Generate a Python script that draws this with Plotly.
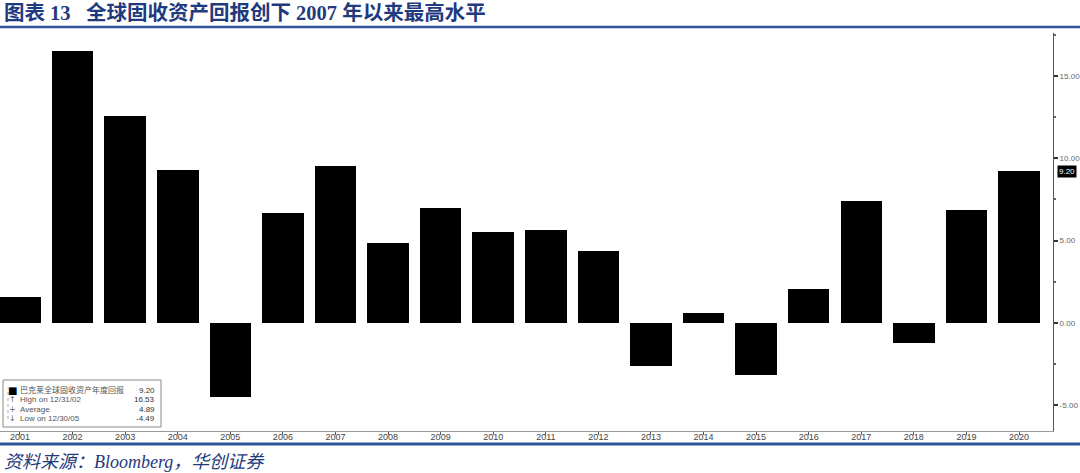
import plotly.graph_objects as go

W, H = 1080, 473

years = list(range(2001, 2021))
returns = [1.58, 16.53, 12.57, 9.29, -4.49, 6.68, 9.53, 4.86, 6.98, 5.53,
           5.65, 4.37, -2.61, 0.61, -3.16, 2.06, 7.41, -1.21, 6.86, 9.20]
y_ticks = [-5, 0, 5, 10, 15]
y_tick_text = ["-5.00", "0.00", "5.00", "10.00", "15.00"]

title_text = "图表 13\u00a0\u00a0\u00a0全球固收资产回报创下 2007 年以来最高水平"
source_text = "资料来源：Bloomberg，华创证券"
legend_rows = [
    ("巴克莱全球固收资产年度回报", "9.20"),
    ("High on 12/31/02", "16.53"),
    ("Average", "4.89"),
    ("Low on 12/30/05", "-4.49"),
]
legend_marks = ["■", "↑", "+", "↓"]
last_value = "9.20"


def px_x(p):
    return p / W


def px_y(p):
    return 1 - p / H


blue = "#1f3a7d"
line_blue = "#2e5597"

fig = go.Figure()
fig.add_trace(go.Bar(
    x=years, y=returns, width=0.79,
    marker=dict(color="#000000", line=dict(width=0)),
    showlegend=False, hoverinfo="x+y",
))

fig.update_layout(
    width=W, height=H,
    margin=dict(l=0, r=0, t=0, b=0, autoexpand=False),
    paper_bgcolor="white", plot_bgcolor="white",
    bargap=0,
    xaxis=dict(
        domain=[0, px_x(1053)],
        range=[2000.62, 2020.646],
        tickvals=years, ticktext=[str(y) for y in years],
        showgrid=False, zeroline=False,
        showline=True, linecolor="#9a9a9a", linewidth=1,
        ticks="outside", ticklen=3, tickcolor="#555", tickwidth=1,
        ticklabelstandoff=-6,
        tickfont=dict(family="Liberation Sans, Arial", size=9, color="#444"),
    ),
    yaxis=dict(
        domain=[px_y(431), px_y(33)],
        range=[-6.56, 17.61],
        side="right",
        tickvals=y_ticks, ticktext=y_tick_text,
        showgrid=False, zeroline=False,
        showline=True, linecolor="#555", linewidth=1,
        ticks="outside", ticklen=4, tickwidth=2, tickcolor="#333",
        tickfont=dict(family="Liberation Sans, Arial", size=8, color="#666"),
        minor=dict(dtick=2.5, tick0=0, ticks="outside", ticklen=2, tickcolor="#666"),
    ),
)

shapes = []
shapes.append(dict(type="line", xref="paper", yref="paper",
                   x0=0, x1=1, y0=px_y(27), y1=px_y(27),
                   line=dict(color=line_blue, width=2.5)))
shapes.append(dict(type="line", xref="paper", yref="paper",
                   x0=0, x1=1, y0=px_y(444), y1=px_y(444),
                   line=dict(color=line_blue, width=3)))
shapes.append(dict(type="rect", xref="paper", yref="paper",
                   x0=px_x(3), x1=px_x(161), y0=px_y(427), y1=px_y(380),
                   line=dict(color="#888", width=1), fillcolor="rgba(255,255,255,0.95)"))
shapes.append(dict(type="line", xref="paper", yref="paper",
                   x0=px_x(8), x1=px_x(8), y0=px_y(419), y1=px_y(388),
                   line=dict(color="#aaa", width=1, dash="dot")))
fig.update_layout(shapes=shapes)

ann = []
ann.append(dict(text="<b>" + title_text + "</b>", xref="paper", yref="paper",
                x=px_x(2), y=px_y(13), xanchor="left", yanchor="middle",
                showarrow=False,
                font=dict(family="Liberation Serif, Noto Sans CJK SC", size=20.5, color=blue)))
ann.append(dict(text="<i>" + source_text + "</i>", xref="paper", yref="paper",
                x=px_x(2), y=px_y(462), xanchor="left", yanchor="middle",
                showarrow=False,
                font=dict(family="Liberation Serif, Noto Sans CJK SC", size=18, color=blue)))
row_y = [390, 399.5, 409, 418.5]
for (label, val), mark, ry in zip(legend_rows, legend_marks, row_y):
    ann.append(dict(text=mark, xref="paper", yref="paper",
                    x=px_x(12), y=px_y(ry), xanchor="center", yanchor="middle",
                    showarrow=False,
                    font=dict(family="DejaVu Sans", size=8 if mark != "■" else 10,
                              color="#000" if mark == "■" else "#666")))
    ann.append(dict(text=label, xref="paper", yref="paper",
                    x=px_x(18), y=px_y(ry), xanchor="left", yanchor="middle",
                    showarrow=False,
                    font=dict(family="Liberation Sans, Noto Sans CJK SC", size=8, color="#555")))
    ann.append(dict(text=val, xref="paper", yref="paper",
                    x=px_x(157), y=px_y(ry), xanchor="right", yanchor="middle",
                    showarrow=False,
                    font=dict(family="Liberation Sans", size=8, color="#333")))
ann.append(dict(text=last_value, xref="paper", yref="y",
                x=px_x(1057), y=returns[-1], xanchor="left", yanchor="middle",
                showarrow=False, bgcolor="#000", borderpad=1,
                font=dict(family="Liberation Sans", size=8, color="#fff")))
fig.update_layout(annotations=ann)

fig.write_html("out.html", config={"displayModeBar": False},
               post_script="document.body.style.margin='0';document.body.style.padding='0';")
